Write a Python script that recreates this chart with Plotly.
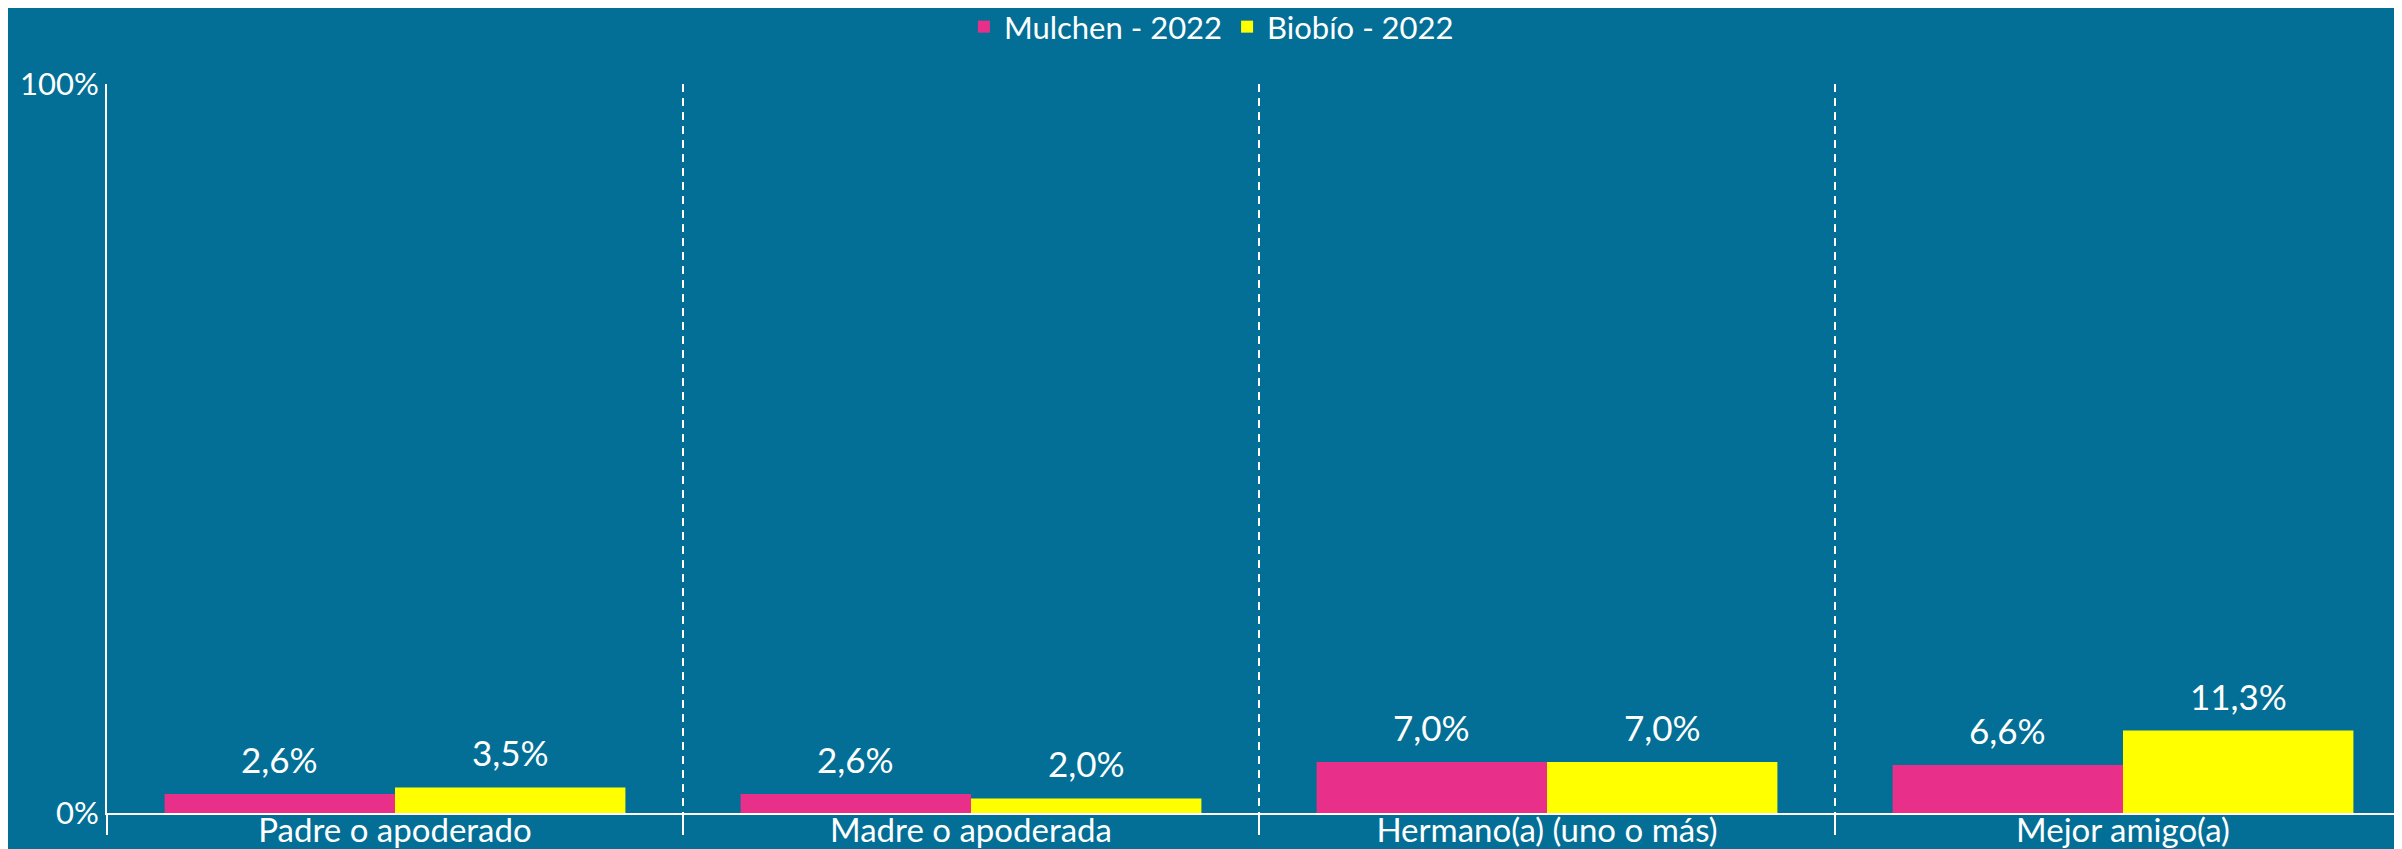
import plotly.graph_objects as go

categories = ["Padre o apoderado", "Madre o apoderada", "Hermano(a) (uno o más)", "Mejor amigo(a)"]
mulchen = [2.6, 2.6, 7.0, 6.6]
biobio = [3.5, 2.0, 7.0, 11.3]
series_names = ["Mulchen - 2022", "Biobío - 2022"]
colors = ["#E8308A", "#FFFF00"]
ytick_vals = [0, 1]
ytick_text = ["0%", "100%"]

BG = "#036F96"
FONT = "Lato"

fig = go.Figure()
for name, vals, col in zip(series_names, [mulchen, biobio], colors):
    fig.add_trace(go.Bar(
        x=categories, y=[v / 100 for v in vals], name=name,
        marker=dict(color=col, line=dict(width=0)),
    ))

bar_px = 0.4 * 576
for shift, vals in zip([-bar_px / 2, bar_px / 2], [mulchen, biobio]):
    for c, v in zip(categories, vals):
        fig.add_annotation(
            x=c, y=v / 100, xref="x", yref="y",
            text=(f"{v:.1f}%").replace(".", ","),
            showarrow=False, xshift=shift, yshift=35, yanchor="middle",
            font=dict(family=FONT, size=35, color="white"),
        )

fig.update_layout(
    width=2402, height=849,
    paper_bgcolor=BG, plot_bgcolor=BG,
    margin=dict(l=99, r=0, t=76, b=44, autoexpand=False),
    barmode="group", bargap=0.2, bargroupgap=0,
    font=dict(family=FONT, color="white"),
    showlegend=True,
    legend=dict(
        orientation="h", xref="container", yref="container",
        x=0.501, xanchor="center", y=1 - 19 / 849, yanchor="middle",
        font=dict(family=FONT, size=31, color="white"),
        bgcolor="rgba(0,0,0,0)", itemclick=False,
    ),
    xaxis=dict(
        type="category", range=[-0.5, -0.5 + 2303 / 576], automargin=False,
        showline=True, linecolor="white", linewidth=2,
        tickson="boundaries", ticks="outside", ticklen=20, tickwidth=2, tickcolor="white",
        showgrid=True, gridcolor="white", gridwidth=2, griddash="8px,6px",
        tickfont=dict(family=FONT, size=33, color="white"),
        ticklabelstandoff=-13,
        fixedrange=True,
    ),
    yaxis=dict(
        range=[0, 1], tickvals=ytick_vals, ticktext=ytick_text, automargin=False,
        showline=True, linecolor="white", linewidth=2,
        showgrid=False, zeroline=False, ticks="",
        tickfont=dict(family=FONT, size=31, color="white"),
        fixedrange=True,
    ),
)

fig.write_html("out.html")
